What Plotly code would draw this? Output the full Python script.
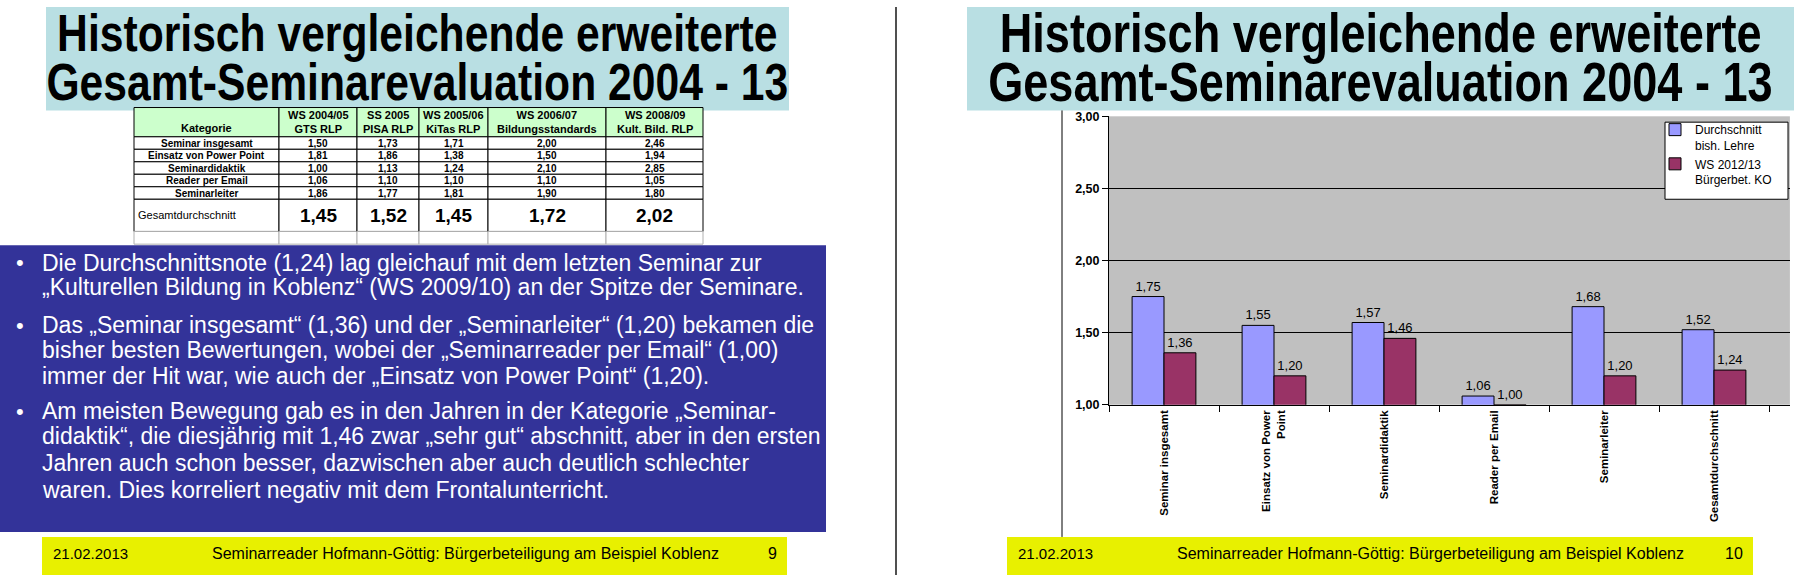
import plotly.graph_objects as go

W, H = 1794, 582

# ---------------- data ----------------
title_lines = ["Historisch vergleichende erweiterte", "Gesamt-Seminarevaluation 2004 - 13"]

chart_categories = ["Seminar insgesamt", "Einsatz von Power<br>Point", "Seminardidaktik",
                    "Reader per Email", "Seminarleiter", "Gesamtdurchschnitt"]
series_hist_name = "Durchschnitt<br>bish. Lehre"
series_hist = [1.75, 1.55, 1.57, 1.06, 1.68, 1.52]
series_now_name = "WS 2012/13<br>Bürgerbet. KO"
series_now = [1.36, 1.20, 1.46, 1.00, 1.20, 1.24]
y_ticks = [1.0, 1.5, 2.0, 2.5, 3.0]

table_first_header = "Kategorie"
table_semesters = ["WS 2004/05<br>GTS RLP", "SS 2005<br>PISA RLP", "WS 2005/06<br>KiTas RLP",
                   "WS 2006/07<br>Bildungsstandards", "WS 2008/09<br>Kult. Bild. RLP"]
table_rows = ["Seminar insgesamt", "Einsatz von Power Point", "Seminardidaktik",
              "Reader per Email", "Seminarleiter"]
table_values = [
    [1.50, 1.73, 1.71, 2.00, 2.46],
    [1.81, 1.86, 1.38, 1.50, 1.94],
    [1.00, 1.13, 1.24, 2.10, 2.85],
    [1.06, 1.10, 1.10, 1.10, 1.05],
    [1.86, 1.77, 1.81, 1.90, 1.80],
]
table_total_label = "Gesamtdurchschnitt"
table_totals = [1.45, 1.52, 1.45, 1.72, 2.02]

bullets = [
    ["Die Durchschnittsnote (1,24) lag gleichauf mit dem letzten Seminar zur",
     "„Kulturellen Bildung in Koblenz“ (WS 2009/10) an der Spitze der Seminare."],
    ["Das „Seminar insgesamt“ (1,36) und der „Seminarleiter“ (1,20) bekamen die",
     "bisher besten Bewertungen, wobei der „Seminarreader per Email“ (1,00)",
     "immer der Hit war, wie auch der „Einsatz von Power Point“ (1,20)."],
    ["Am meisten Bewegung gab es in den Jahren in der Kategorie „Seminar-",
     "didaktik“, die diesjährig mit 1,46 zwar „sehr gut“ abschnitt, aber in den ersten",
     "Jahren auch schon besser, dazwischen aber auch deutlich schlechter",
     "waren. Dies korreliert negativ mit dem Frontalunterricht."],
]
footer_date = "21.02.2013"
footer_text = "Seminarreader Hofmann-Göttig: Bürgerbeteiligung am Beispiel Koblenz"
page_numbers = ["9", "10"]

# ---------------- styling / geometry ----------------
FONT = "Liberation Sans, Arial, sans-serif"
TITLE_BG = "#b9dfe3"
FOOT_BG = "#e8f000"
BLUE_BG = "#333399"
C_HIST = "#9999FF"
C_NOW = "#993366"
TITLE_SQUEEZE = 0.82   # emulate the condensed title face


def X(px):
    return px / W


def Y(py):
    return 1 - py / H


def fmt(v):
    return f"{v:.2f}".replace(".", ",")


shapes = []
ann = []


def rect(x0, y0, x1, y1, fill, line=None, lw=1, layer="below"):
    shapes.append(dict(type="rect", xref="paper", yref="paper",
                       x0=X(x0), x1=X(x1), y0=Y(y1), y1=Y(y0),
                       fillcolor=fill, line=dict(color=line or fill, width=lw if line else 0),
                       layer=layer))


def line(x0, y0, x1, y1, color, lw=1):
    shapes.append(dict(type="line", xref="paper", yref="paper",
                       x0=X(x0), x1=X(x1), y0=Y(y0), y1=Y(y1),
                       line=dict(color=color, width=lw), layer="above"))


def text(x, y, s, size, color="black", family=FONT, anchor="center", bold=False):
    ann.append(dict(xref="paper", yref="paper", x=X(x), y=Y(y), text=s, showarrow=False,
                    xanchor=anchor, yanchor="middle",
                    font=dict(size=size, color=color, family=family,
                              weight="bold" if bold else "normal")))


# ---- title boxes ----
for (bx0, bx1, size) in [(46, 789, 52), (967, 1794, 55)]:
    rect(bx0, 0, bx1, 106, TITLE_BG)
    cx = (bx0 + bx1) / 2
    text(cx, 27, title_lines[0], size, bold=True)
    text(cx, 77, title_lines[1], size, bold=True)

# ---- divider & chart frame ----
line(896, 0, 896, 582, "#505050", 2)
line(1062, 106, 1062, 543, "black", 1)

# ---- footers ----
for (bx0, bx1, page) in [(42, 787, page_numbers[0]), (1007, 1753, page_numbers[1])]:
    rect(bx0, 543, bx1, 582, FOOT_BG)
    text(bx0 + 9, 560, footer_date, 15, anchor="left")
    text(bx0 + 423, 560, footer_text, 16)
    text(bx1 - 8, 560, page, 16, anchor="right")

# ---- table ----
col_edges = [134, 279, 357, 419, 488, 606, 703]
hdr_top, hdr_bot = 103, 133
row_h = 12.8
tot_top, tot_bot = 197, 230
empty_bot = 243

for c in range(6):
    x0, x1 = col_edges[c], col_edges[c + 1]
    cx = (x0 + x1) / 2
    rect(x0, hdr_top, x1, hdr_bot, "#ccffcc", "black", 1)
    if c == 0:
        text(cx, 124, table_first_header, 11, bold=True)
    else:
        text(cx, 118, table_semesters[c - 1], 11, bold=True)
    for r in range(len(table_rows)):
        y0 = hdr_bot + r * row_h
        rect(x0, y0, x1, y0 + row_h, "white", "black", 1)
        s = table_rows[r] if c == 0 else fmt(table_values[r][c - 1])
        text(cx, y0 + row_h / 2, s, 10, bold=True)
    rect(x0, tot_top, x1, tot_bot, "white", "black", 1)
    if c == 0:
        text(x0 + 2, (tot_top + tot_bot) / 2, table_total_label, 11, anchor="left")
    else:
        text(cx, (tot_top + tot_bot) / 2, fmt(table_totals[c - 1]), 19, bold=True)
    rect(x0, tot_bot, x1, empty_bot, "white", "#b0b0b0", 1)

# ---- blue text box ----
rect(0, 244, 826, 538, BLUE_BG)
line_y = [[262, 287], [326, 351, 378], [414, 440, 467, 495]]
for b, lines_ in enumerate(bullets):
    text(14, line_y[b][0], "•", 22, color="white", anchor="left")
    for i, s in enumerate(lines_):
        text(40, line_y[b][i], s, 23, color="white", anchor="left")

# ---- legend frame (box of the chart legend) ----
rect(1665, 118, 1788, 197, "white", "black", 1, layer="above")

# ---------------- chart ----------------
fig = go.Figure()
fig.add_bar(x=chart_categories, y=series_hist, name=series_hist_name, legendgroup="a",
            marker=dict(color=C_HIST, line=dict(color="black", width=1)),
            texttemplate="%{y:.2f}", textposition="outside",
            textfont=dict(size=13, color="black", family=FONT), cliponaxis=False)
fig.add_bar(x=chart_categories, y=series_now, name=series_now_name, legendgroup="b",
            marker=dict(color=C_NOW, line=dict(color="black", width=1)),
            texttemplate="%{y:.2f}", textposition="outside",
            textfont=dict(size=13, color="black", family=FONT), cliponaxis=False)

n_cat = len(chart_categories)
x_extra = 0.19  # plot area runs a little past the last category

fig.update_layout(
    width=W, height=H, autosize=False,
    margin=dict(l=0, r=0, t=0, b=0),
    paper_bgcolor="white", plot_bgcolor="#C0C0C0",
    separators=",.",
    font=dict(family=FONT, color="black"),
    barmode="group", bargap=0.42, bargroupgap=0,
    shapes=shapes, annotations=ann,
    legend=dict(x=X(1655), y=Y(111), xanchor="left", yanchor="top",
                bgcolor="rgba(0,0,0,0)", borderwidth=0, valign="top",
                traceorder="grouped", tracegroupgap=0,
                font=dict(size=12, family=FONT)),
    xaxis=dict(domain=[X(1109), X(1769 + 110 * x_extra)], type="category",
               range=[-0.5, n_cat - 0.5 + x_extra], tickson="boundaries",
               ticks="outside", ticklen=6, tickcolor="black",
               showline=True, linecolor="black", linewidth=1,
               tickangle=-90, tickfont=dict(size=11.5, family=FONT, weight="bold"),
               showgrid=False, fixedrange=True),
    yaxis=dict(domain=[Y(407.5), Y(112)], range=[1, 3], tickvals=y_ticks, tickformat=".2f",
               gridcolor="black", gridwidth=1, showline=True, linecolor="black",
               ticks="outside", ticklen=6, tickcolor="black",
               tickfont=dict(size=12.5, family=FONT, weight="bold"),
               zeroline=False, fixedrange=True),
)

squeeze_js = """
var gd = document.getElementById('{plot_id}');
var TITLES = %s;
function squeezeTitles() {
  var ts = gd.querySelectorAll('text.annotation-text');
  for (var i = 0; i < ts.length; i++) {
    var t = ts[i];
    if (TITLES.indexOf(t.textContent) >= 0) {
      var b = t.getBBox();
      var cx = b.x + b.width / 2;
      t.setAttribute('transform', 'translate(' + cx + ',0) scale(%s,1) translate(' + (-cx) + ',0)');
    }
  }
}
squeezeTitles();
gd.on('plotly_afterplot', squeezeTitles);
document.body.style.margin = '0';
document.body.style.overflow = 'hidden';
""" % (str(title_lines).replace("'", '"'), TITLE_SQUEEZE)

fig.write_html("out.html", config={"displayModeBar": False}, post_script=squeeze_js)
